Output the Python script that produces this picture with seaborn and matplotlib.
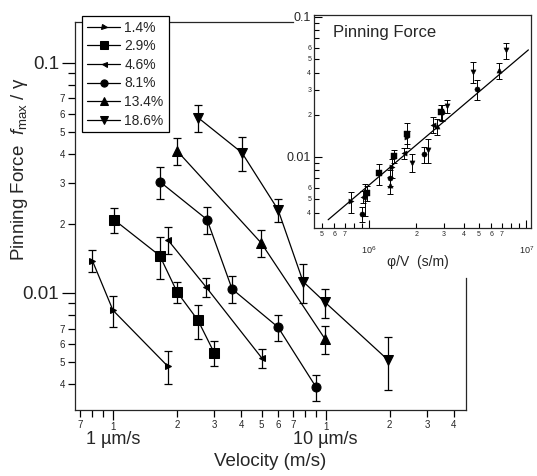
import matplotlib
matplotlib.use("Agg")
import matplotlib.pyplot as plt
import seaborn as sns
import pandas as pd
from matplotlib.ticker import FixedLocator, FixedFormatter

sns.set_theme(style="ticks")
plt.rcParams["font.family"] = ["Liberation Sans", "DejaVu Sans"]
plt.rcParams["mathtext.fontset"] = "custom"
plt.rcParams["mathtext.rm"] = "Liberation Sans"
plt.rcParams["mathtext.it"] = "Liberation Sans:italic"
plt.rcParams["axes.linewidth"] = 0.9

# main panel: velocity (m/s) vs pinning force, one list per volume fraction
labels = ["1.4%", "2.9%", "4.6%", "8.1%", "13.4%", "18.6%"]

vel_14 = [0.80e-6, 1.00e-6, 1.81e-6]
f_14 = [0.0138, 0.0084, 0.0048]
e_14 = [0.0015, 0.0013, 0.0008]

vel_29 = [1.01e-6, 1.66e-6, 2.00e-6, 2.51e-6, 2.99e-6]
f_29 = [0.0208, 0.0145, 0.0101, 0.0076, 0.0055]
e_29 = [0.0026, 0.0030, 0.0011, 0.0013, 0.0007]

vel_46 = [1.81e-6, 2.74e-6, 5.02e-6]
f_46 = [0.0170, 0.0106, 0.0052]
e_46 = [0.0023, 0.0010, 0.0005]

vel_81 = [1.66e-6, 2.77e-6, 3.63e-6, 5.97e-6, 9.01e-6]
f_81 = [0.0304, 0.0208, 0.0104, 0.0071, 0.0039]
e_81 = [0.0048, 0.0027, 0.0014, 0.0009, 0.0005]

vel_134 = [2.00e-6, 4.97e-6, 9.94e-6]
f_134 = [0.0414, 0.0165, 0.0063]
e_134 = [0.0055, 0.0022, 0.0009]

vel_186 = [2.51e-6, 4.04e-6, 5.97e-6, 7.83e-6, 9.94e-6, 19.7e-6]
f_186 = [0.0577, 0.0406, 0.0230, 0.0112, 0.0091, 0.0051]
e_186 = [0.0075, 0.0067, 0.0026, 0.0022, 0.0013, 0.0013]

# inset: phi/V (s/m) vs pinning force
pv_14 = [1.74e6, 1.40e6, 7.7e5]
pv_29 = [2.87e6, 1.75e6, 1.45e6, 1.16e6, 9.7e5]
pv_46 = [2.54e6, 1.68e6, 9.2e5]
pv_81 = [4.88e6, 2.92e6, 2.23e6, 1.36e6, 9.0e5]
pv_134 = [6.70e6, 2.70e6, 1.35e6]
pv_186 = [7.41e6, 4.60e6, 3.12e6, 2.38e6, 1.87e6, 9.4e5]

fit_x = [5.5e5, 1.03e7]
fit_y = [0.00355, 0.058]

series = [
    (vel_14, f_14, e_14, pv_14, ">", 4.5),
    (vel_29, f_29, e_29, pv_29, "s", 6.5),
    (vel_46, f_46, e_46, pv_46, "<", 4.5),
    (vel_81, f_81, e_81, pv_81, "o", 6.5),
    (vel_134, f_134, e_134, pv_134, "^", 6.5),
    (vel_186, f_186, e_186, pv_186, "v", 6.5),
]

fig = plt.figure(figsize=(5.37, 4.76), dpi=100)
ax = fig.add_axes([0.1397, 0.1387, 0.728, 0.815])
ax.set_xscale("log")
ax.set_yscale("log")

for lab, (v, f, e, pv, mk, ms) in zip(labels, series):
    d = pd.DataFrame({"Velocity": v, "Force": f})
    sns.lineplot(data=d, x="Velocity", y="Force", ax=ax, color="black",
                 marker=mk, markersize=ms, markeredgecolor="black",
                 linewidth=0.9, label=lab)
    ax.errorbar(v, f, yerr=e, fmt="none", ecolor="black", elinewidth=0.9,
                capsize=3.2, capthick=0.9)

ax.set_xlim(0.663e-6, 45.7e-6)
ax.set_ylim(0.0031, 0.15)

ax.xaxis.set_major_locator(FixedLocator([1e-6, 1e-5]))
ax.xaxis.set_major_formatter(FixedFormatter(["1", "1"]))
xminor = [7e-7, 8e-7, 9e-7, 2e-6, 3e-6, 4e-6, 5e-6, 6e-6, 7e-6, 8e-6, 9e-6,
          2e-5, 3e-5, 4e-5]
ax.xaxis.set_minor_locator(FixedLocator(xminor))
ax.xaxis.set_minor_formatter(FixedFormatter(
    ["7", "", "", "2", "3", "4", "5", "6", "7", "", "", "2", "3", "4"]))

ax.yaxis.set_major_locator(FixedLocator([0.01, 0.1]))
ax.yaxis.set_major_formatter(FixedFormatter(["0.01", "0.1"]))
yminor = [0.004, 0.005, 0.006, 0.007, 0.008, 0.009,
          0.02, 0.03, 0.04, 0.05, 0.06, 0.07, 0.08, 0.09]
ax.yaxis.set_minor_locator(FixedLocator(yminor))
ax.yaxis.set_minor_formatter(FixedFormatter(
    ["4", "5", "6", "7", "", "", "2", "3", "4", "5", "6", "7", "", ""]))

ax.tick_params(which="both", direction="out", color="black", width=0.9,
               top=False, right=False)
ax.tick_params(which="major", length=7, labelsize=7, pad=2)
ax.tick_params(which="minor", length=5, labelsize=7, pad=2)
ax.tick_params(axis="y", which="major", labelsize=13.5, length=9.5, pad=2)
ax.grid(False)

ax.spines["top"].set_bounds(0.663e-6, 7.0e-6)
ax.spines["right"].set_bounds(0.0031, 0.0116)

for xv, txt in [(1e-6, "1 µm/s"), (1e-5, "10 µm/s")]:
    ax.annotate(txt, xy=(xv, 0), xycoords=("data", "axes fraction"),
                xytext=(0, -30), textcoords="offset pixels",
                ha="center", va="center", fontsize=13)

ax.set_xlabel("Velocity (m/s)", fontsize=13.5)
ax.xaxis.set_label_coords(0.5, -0.112)
ax.set_ylabel(r"Pinning Force  $f_{\rm max}$ / γ", fontsize=13.5)
ax.yaxis.set_label_coords(-0.115, 0.62)

leg = ax.legend(loc="upper left", bbox_to_anchor=(0.018, 1.016),
                borderaxespad=0, frameon=True, fancybox=False, framealpha=1,
                edgecolor="black", fontsize=10, handlelength=2.4,
                handletextpad=0.3, labelspacing=0.33, borderpad=0.35,
                markerscale=0.8)
leg.get_frame().set_linewidth(0.9)

# inset
ax_in = fig.add_axes([0.5847, 0.521, 0.4041, 0.4475], zorder=3)
ax_in.set_facecolor("white")
ax_in.set_xscale("log")
ax_in.set_yscale("log")
for lab, (v, f, e, pv, mk, ms) in zip(labels, series):
    d = pd.DataFrame({"phiV": pv, "Force": f})
    sns.scatterplot(data=d, x="phiV", y="Force", ax=ax_in, color="black",
                    marker=mk, s=14, edgecolor="black", legend=False)
    ax_in.errorbar(pv, f, yerr=e, fmt="none", ecolor="black", elinewidth=0.7,
                   capsize=2, capthick=0.7)
ax_in.plot(fit_x, fit_y, color="black", linewidth=0.9)

ax_in.set_xlim(4.47e5, 1.07e7)
ax_in.set_ylim(0.0031, 0.103)

ax_in.xaxis.set_major_locator(FixedLocator([1e6, 1e7]))
ax_in.xaxis.set_major_formatter(FixedFormatter([r"$10^6$", r"$10^7$"]))
ixm = [5e5, 6e5, 7e5, 8e5, 9e5, 2e6, 3e6, 4e6, 5e6, 6e6, 7e6, 8e6, 9e6]
ax_in.xaxis.set_minor_locator(FixedLocator(ixm))
ax_in.xaxis.set_minor_formatter(FixedFormatter(
    ["5", "6", "7", "", "", "2", "3", "4", "5", "6", "7", "", ""]))

ax_in.yaxis.set_major_locator(FixedLocator([0.01, 0.1]))
ax_in.yaxis.set_major_formatter(FixedFormatter(["0.01", "0.1"]))
iym = [0.004, 0.005, 0.006, 0.007, 0.008, 0.009,
       0.02, 0.03, 0.04, 0.05, 0.06, 0.07, 0.08, 0.09]
ax_in.yaxis.set_minor_locator(FixedLocator(iym))
ax_in.yaxis.set_minor_formatter(FixedFormatter(
    ["4", "5", "6", "", "", "", "2", "3", "4", "5", "6", "", "", ""]))

ax_in.tick_params(which="both", direction="in", color="black", width=0.8,
                  top=False, right=False)
ax_in.tick_params(which="major", length=6, labelsize=6.5)
ax_in.tick_params(which="minor", length=3.5, labelsize=5, pad=2)
ax_in.tick_params(axis="x", which="major", pad=12)
ax_in.tick_params(axis="y", which="major", labelsize=9, pad=2)
ax_in.grid(False)

ax_in.set_xlabel("φ/V  (s/m)", fontsize=10)
ax_in.xaxis.set_label_coords(0.48, -0.125)
ax_in.set_ylabel("")
ax_in.text(0.088, 0.92, "Pinning Force", transform=ax_in.transAxes,
           ha="left", va="center", fontsize=12)

fig.savefig("out.png", dpi=100)
